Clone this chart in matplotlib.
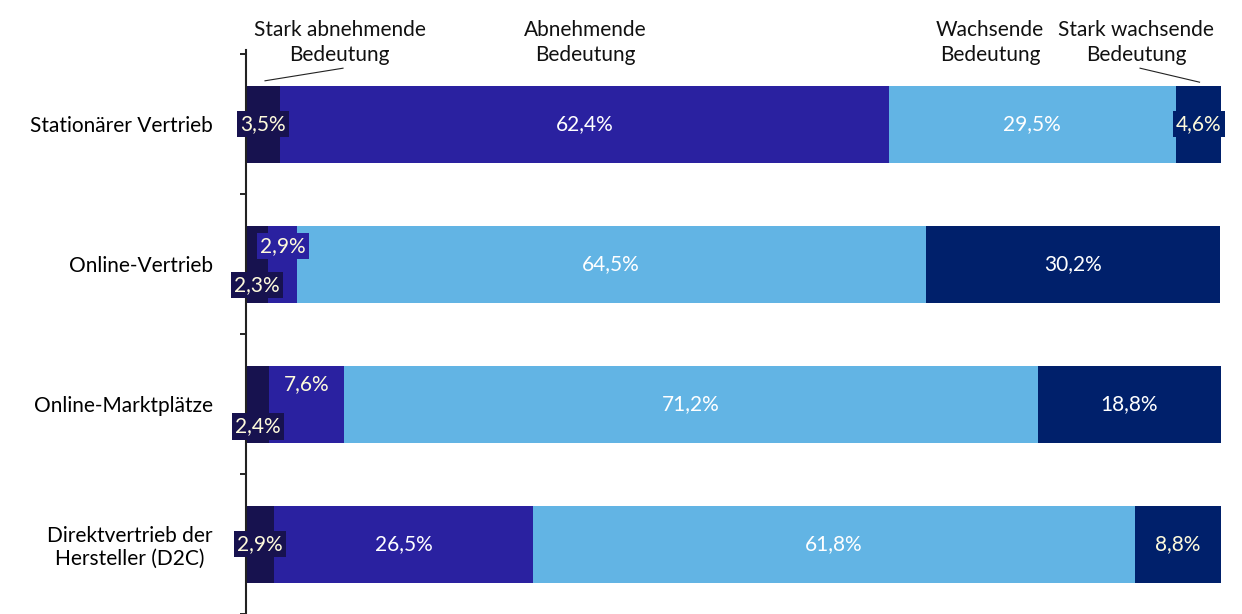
import matplotlib
matplotlib.use('Agg')
import matplotlib.pyplot as plt
import numpy as np

plt.rcParams['font.family'] = ['Lato', 'DejaVu Sans']

categories = ['Stationärer Vertrieb', 'Online-Vertrieb', 'Online-Marktplätze',
              'Direktvertrieb der\nHersteller (D2C)']
series = ['Stark abnehmende\nBedeutung', 'Abnehmende\nBedeutung',
          'Wachsende\nBedeutung', 'Stark wachsende\nBedeutung']
stark_abn = [3.5, 2.3, 2.4, 2.9]
abn = [62.4, 2.9, 7.6, 26.5]
wachs = [29.5, 64.5, 71.2, 61.8]
stark_wachs = [4.6, 30.2, 18.8, 8.8]

colors = ['#17124f', '#2a21a0', '#62b4e4', '#00206b']
small_txt = '#fffbdc'
fs = 15

# vertical nudges for labels on narrow segments (row, series) -> dy
nudge = {(1, 0): 0.15, (1, 1): -0.13, (2, 0): 0.16, (2, 1): -0.14}

fig = plt.figure(figsize=(12.42, 6.14), dpi=100)
ax = fig.add_axes([246 / 1242, 0, 975 / 1242, 564 / 614])

data = np.array([stark_abn, abn, wachs, stark_wachs])
y = np.arange(len(categories))
left = np.zeros(len(categories))
for j, vals in enumerate(data):
    ax.barh(y, vals, left=left, height=0.55, color=colors[j], linewidth=0)
    for i, v in enumerate(vals):
        cx = left[i] + v / 2
        cy = y[i] + nudge.get((i, j), 0)
        lab = ('%.1f%%' % v).replace('.', ',')
        if v < 10:
            ax.text(cx, cy, lab, ha='center', va='center', fontsize=fs,
                    color=small_txt,
                    bbox=dict(boxstyle='square,pad=0.15', fc=colors[j], ec='none'))
        else:
            ax.text(cx, cy, lab, ha='center', va='center', fontsize=fs,
                    color='white')
    left += vals

ax.set_xlim(0, 100)
ax.set_ylim(3.46, -0.53)
ax.set_yticks(y)
ax.set_yticklabels(categories, fontsize=fs, ha='right', multialignment='center')
ax.tick_params(axis='y', which='major', length=0, pad=24)
ax.set_yticks(np.arange(-0.5, 4, 1), minor=True)
ax.tick_params(axis='y', which='minor', length=4, width=1.2)
ax.set_xticks([])
for s in ['top', 'right', 'bottom']:
    ax.spines[s].set_visible(False)
ax.spines['left'].set_linewidth(1.5)
ax.spines['left'].set_color('#222222')

# series headers above the bars
head_x = [9.6, 34.8, 76.3, 91.3]
for hx, name in zip(head_x, series):
    ax.text(hx, -0.585, name, ha='center', va='center', fontsize=fs,
            color='#111111', linespacing=1.35, clip_on=False)
ax.plot([1.95, 9.95], [-0.31, -0.40], color='#222222', lw=0.8, clip_on=False)
ax.plot([91.7, 97.8], [-0.40, -0.30], color='#222222', lw=0.8, clip_on=False)

fig.savefig('out.png', dpi=100)
